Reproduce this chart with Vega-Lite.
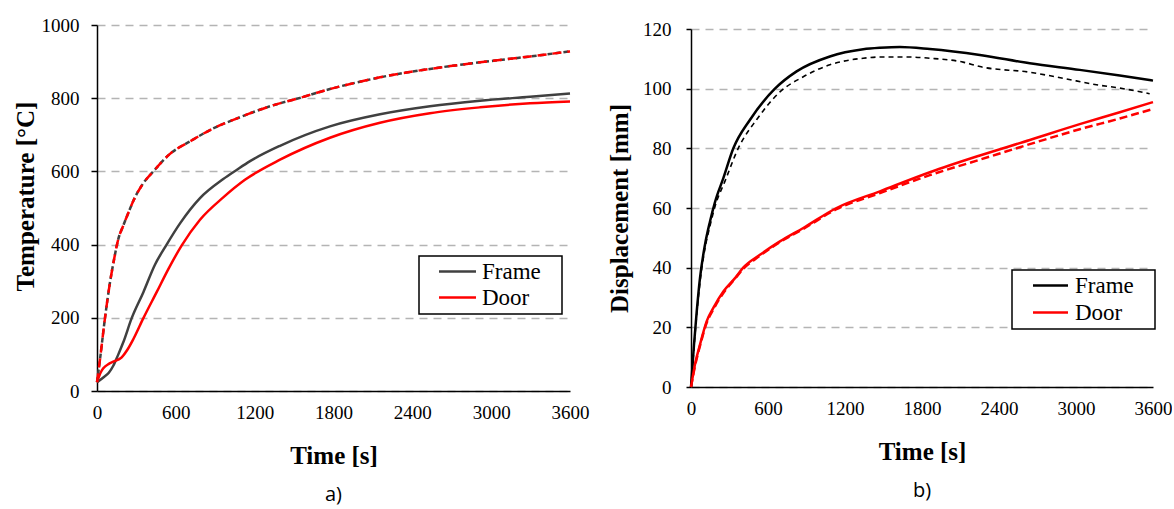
{
  "$schema": "https://vega.github.io/schema/vega-lite/v6.json",
  "background": "white",
  "padding": {"left": 13, "top": 16, "right": 0, "bottom": 4},
  "spacing": 18,
  "center": true,
  "datasets": {
    "temp": [
      {"time": 0, "value": 24, "element": "Frame", "kind": "furnace"},
      {"time": 23, "value": 87, "element": "Frame", "kind": "furnace"},
      {"time": 61, "value": 200, "element": "Frame", "kind": "furnace"},
      {"time": 99, "value": 297, "element": "Frame", "kind": "furnace"},
      {"time": 130, "value": 360, "element": "Frame", "kind": "furnace"},
      {"time": 162, "value": 415, "element": "Frame", "kind": "furnace"},
      {"time": 200, "value": 452, "element": "Frame", "kind": "furnace"},
      {"time": 240, "value": 488, "element": "Frame", "kind": "furnace"},
      {"time": 277, "value": 520, "element": "Frame", "kind": "furnace"},
      {"time": 353, "value": 568, "element": "Frame", "kind": "furnace"},
      {"time": 429, "value": 600, "element": "Frame", "kind": "furnace"},
      {"time": 556, "value": 648, "element": "Frame", "kind": "furnace"},
      {"time": 708, "value": 682, "element": "Frame", "kind": "furnace"},
      {"time": 860, "value": 713, "element": "Frame", "kind": "furnace"},
      {"time": 1088, "value": 748, "element": "Frame", "kind": "furnace"},
      {"time": 1317, "value": 778, "element": "Frame", "kind": "furnace"},
      {"time": 1545, "value": 801, "element": "Frame", "kind": "furnace"},
      {"time": 1773, "value": 825, "element": "Frame", "kind": "furnace"},
      {"time": 2000, "value": 845, "element": "Frame", "kind": "furnace"},
      {"time": 2154, "value": 857, "element": "Frame", "kind": "furnace"},
      {"time": 2534, "value": 880, "element": "Frame", "kind": "furnace"},
      {"time": 2915, "value": 898, "element": "Frame", "kind": "furnace"},
      {"time": 3296, "value": 914, "element": "Frame", "kind": "furnace"},
      {"time": 3600, "value": 928, "element": "Frame", "kind": "furnace"},
      {"time": 0, "value": 24, "element": "Door", "kind": "furnace"},
      {"time": 23, "value": 87, "element": "Door", "kind": "furnace"},
      {"time": 61, "value": 200, "element": "Door", "kind": "furnace"},
      {"time": 99, "value": 297, "element": "Door", "kind": "furnace"},
      {"time": 130, "value": 360, "element": "Door", "kind": "furnace"},
      {"time": 162, "value": 415, "element": "Door", "kind": "furnace"},
      {"time": 200, "value": 452, "element": "Door", "kind": "furnace"},
      {"time": 240, "value": 488, "element": "Door", "kind": "furnace"},
      {"time": 277, "value": 520, "element": "Door", "kind": "furnace"},
      {"time": 353, "value": 568, "element": "Door", "kind": "furnace"},
      {"time": 429, "value": 600, "element": "Door", "kind": "furnace"},
      {"time": 556, "value": 648, "element": "Door", "kind": "furnace"},
      {"time": 708, "value": 682, "element": "Door", "kind": "furnace"},
      {"time": 860, "value": 713, "element": "Door", "kind": "furnace"},
      {"time": 1088, "value": 748, "element": "Door", "kind": "furnace"},
      {"time": 1317, "value": 778, "element": "Door", "kind": "furnace"},
      {"time": 1545, "value": 801, "element": "Door", "kind": "furnace"},
      {"time": 1773, "value": 825, "element": "Door", "kind": "furnace"},
      {"time": 2000, "value": 845, "element": "Door", "kind": "furnace"},
      {"time": 2154, "value": 857, "element": "Door", "kind": "furnace"},
      {"time": 2534, "value": 880, "element": "Door", "kind": "furnace"},
      {"time": 2915, "value": 898, "element": "Door", "kind": "furnace"},
      {"time": 3296, "value": 914, "element": "Door", "kind": "furnace"},
      {"time": 3600, "value": 928, "element": "Door", "kind": "furnace"},
      {"time": 0, "value": 24, "element": "Frame", "kind": "element"},
      {"time": 48, "value": 37, "element": "Frame", "kind": "element"},
      {"time": 90, "value": 50, "element": "Frame", "kind": "element"},
      {"time": 124, "value": 69, "element": "Frame", "kind": "element"},
      {"time": 160, "value": 98, "element": "Frame", "kind": "element"},
      {"time": 200, "value": 133, "element": "Frame", "kind": "element"},
      {"time": 264, "value": 199, "element": "Frame", "kind": "element"},
      {"time": 353, "value": 270, "element": "Frame", "kind": "element"},
      {"time": 441, "value": 345, "element": "Frame", "kind": "element"},
      {"time": 530, "value": 400, "element": "Frame", "kind": "element"},
      {"time": 632, "value": 458, "element": "Frame", "kind": "element"},
      {"time": 784, "value": 527, "element": "Frame", "kind": "element"},
      {"time": 961, "value": 579, "element": "Frame", "kind": "element"},
      {"time": 1063, "value": 604, "element": "Frame", "kind": "element"},
      {"time": 1165, "value": 628, "element": "Frame", "kind": "element"},
      {"time": 1393, "value": 670, "element": "Frame", "kind": "element"},
      {"time": 1773, "value": 723, "element": "Frame", "kind": "element"},
      {"time": 2154, "value": 756, "element": "Frame", "kind": "element"},
      {"time": 2534, "value": 778, "element": "Frame", "kind": "element"},
      {"time": 2915, "value": 793, "element": "Frame", "kind": "element"},
      {"time": 3296, "value": 804, "element": "Frame", "kind": "element"},
      {"time": 3600, "value": 813, "element": "Frame", "kind": "element"},
      {"time": 0, "value": 24, "element": "Door", "kind": "element"},
      {"time": 30, "value": 52, "element": "Door", "kind": "element"},
      {"time": 48, "value": 62, "element": "Door", "kind": "element"},
      {"time": 90, "value": 74, "element": "Door", "kind": "element"},
      {"time": 124, "value": 80, "element": "Door", "kind": "element"},
      {"time": 188, "value": 92, "element": "Door", "kind": "element"},
      {"time": 230, "value": 112, "element": "Door", "kind": "element"},
      {"time": 277, "value": 142, "element": "Door", "kind": "element"},
      {"time": 353, "value": 199, "element": "Door", "kind": "element"},
      {"time": 454, "value": 270, "element": "Door", "kind": "element"},
      {"time": 543, "value": 333, "element": "Door", "kind": "element"},
      {"time": 645, "value": 398, "element": "Door", "kind": "element"},
      {"time": 784, "value": 468, "element": "Door", "kind": "element"},
      {"time": 961, "value": 529, "element": "Door", "kind": "element"},
      {"time": 1126, "value": 577, "element": "Door", "kind": "element"},
      {"time": 1393, "value": 632, "element": "Door", "kind": "element"},
      {"time": 1773, "value": 692, "element": "Door", "kind": "element"},
      {"time": 2154, "value": 733, "element": "Door", "kind": "element"},
      {"time": 2534, "value": 759, "element": "Door", "kind": "element"},
      {"time": 2915, "value": 775, "element": "Door", "kind": "element"},
      {"time": 3296, "value": 786, "element": "Door", "kind": "element"},
      {"time": 3600, "value": 791, "element": "Door", "kind": "element"}
    ],
    "disp": [
      {"time": 0, "value": 0, "element": "Frame", "kind": "measured"},
      {"time": 23, "value": 14, "element": "Frame", "kind": "measured"},
      {"time": 44, "value": 25, "element": "Frame", "kind": "measured"},
      {"time": 70, "value": 36.5, "element": "Frame", "kind": "measured"},
      {"time": 109, "value": 47.7, "element": "Frame", "kind": "measured"},
      {"time": 148, "value": 55.5, "element": "Frame", "kind": "measured"},
      {"time": 187, "value": 62, "element": "Frame", "kind": "measured"},
      {"time": 252, "value": 70, "element": "Frame", "kind": "measured"},
      {"time": 330, "value": 80, "element": "Frame", "kind": "measured"},
      {"time": 460, "value": 89.6, "element": "Frame", "kind": "measured"},
      {"time": 654, "value": 100, "element": "Frame", "kind": "measured"},
      {"time": 823, "value": 105.8, "element": "Frame", "kind": "measured"},
      {"time": 1082, "value": 110.8, "element": "Frame", "kind": "measured"},
      {"time": 1342, "value": 113.2, "element": "Frame", "kind": "measured"},
      {"time": 1472, "value": 113.7, "element": "Frame", "kind": "measured"},
      {"time": 1628, "value": 114, "element": "Frame", "kind": "measured"},
      {"time": 1861, "value": 113.3, "element": "Frame", "kind": "measured"},
      {"time": 2251, "value": 111.3, "element": "Frame", "kind": "measured"},
      {"time": 2640, "value": 108.5, "element": "Frame", "kind": "measured"},
      {"time": 3029, "value": 106.3, "element": "Frame", "kind": "measured"},
      {"time": 3341, "value": 104.4, "element": "Frame", "kind": "measured"},
      {"time": 3600, "value": 102.7, "element": "Frame", "kind": "measured"},
      {"time": 0, "value": 0, "element": "Frame", "kind": "simulated"},
      {"time": 23, "value": 13, "element": "Frame", "kind": "simulated"},
      {"time": 44, "value": 24, "element": "Frame", "kind": "simulated"},
      {"time": 70, "value": 35, "element": "Frame", "kind": "simulated"},
      {"time": 109, "value": 46.5, "element": "Frame", "kind": "simulated"},
      {"time": 148, "value": 54, "element": "Frame", "kind": "simulated"},
      {"time": 187, "value": 60.5, "element": "Frame", "kind": "simulated"},
      {"time": 265, "value": 69, "element": "Frame", "kind": "simulated"},
      {"time": 368, "value": 80, "element": "Frame", "kind": "simulated"},
      {"time": 511, "value": 89.6, "element": "Frame", "kind": "simulated"},
      {"time": 693, "value": 98.9, "element": "Frame", "kind": "simulated"},
      {"time": 875, "value": 104, "element": "Frame", "kind": "simulated"},
      {"time": 1082, "value": 108, "element": "Frame", "kind": "simulated"},
      {"time": 1342, "value": 110.2, "element": "Frame", "kind": "simulated"},
      {"time": 1472, "value": 110.6, "element": "Frame", "kind": "simulated"},
      {"time": 1700, "value": 110.6, "element": "Frame", "kind": "simulated"},
      {"time": 1861, "value": 110.2, "element": "Frame", "kind": "simulated"},
      {"time": 2120, "value": 108.9, "element": "Frame", "kind": "simulated"},
      {"time": 2251, "value": 107.4, "element": "Frame", "kind": "simulated"},
      {"time": 2640, "value": 105.5, "element": "Frame", "kind": "simulated"},
      {"time": 2899, "value": 103.5, "element": "Frame", "kind": "simulated"},
      {"time": 3159, "value": 101.3, "element": "Frame", "kind": "simulated"},
      {"time": 3341, "value": 100.2, "element": "Frame", "kind": "simulated"},
      {"time": 3574, "value": 98.3, "element": "Frame", "kind": "simulated"},
      {"time": 0, "value": 0, "element": "Door", "kind": "measured"},
      {"time": 31, "value": 7.5, "element": "Door", "kind": "measured"},
      {"time": 70, "value": 14.2, "element": "Door", "kind": "measured"},
      {"time": 122, "value": 22, "element": "Door", "kind": "measured"},
      {"time": 174, "value": 26.5, "element": "Door", "kind": "measured"},
      {"time": 252, "value": 32, "element": "Door", "kind": "measured"},
      {"time": 343, "value": 36.5, "element": "Door", "kind": "measured"},
      {"time": 407, "value": 40, "element": "Door", "kind": "measured"},
      {"time": 537, "value": 44.3, "element": "Door", "kind": "measured"},
      {"time": 693, "value": 48.8, "element": "Door", "kind": "measured"},
      {"time": 875, "value": 53.3, "element": "Door", "kind": "measured"},
      {"time": 1134, "value": 60, "element": "Door", "kind": "measured"},
      {"time": 1472, "value": 65.6, "element": "Door", "kind": "measured"},
      {"time": 1861, "value": 72, "element": "Door", "kind": "measured"},
      {"time": 2251, "value": 77.6, "element": "Door", "kind": "measured"},
      {"time": 2640, "value": 82.8, "element": "Door", "kind": "measured"},
      {"time": 3029, "value": 88.1, "element": "Door", "kind": "measured"},
      {"time": 3341, "value": 92.1, "element": "Door", "kind": "measured"},
      {"time": 3600, "value": 95.5, "element": "Door", "kind": "measured"},
      {"time": 0, "value": 0, "element": "Door", "kind": "simulated"},
      {"time": 31, "value": 7, "element": "Door", "kind": "simulated"},
      {"time": 70, "value": 13.8, "element": "Door", "kind": "simulated"},
      {"time": 122, "value": 21.5, "element": "Door", "kind": "simulated"},
      {"time": 174, "value": 26, "element": "Door", "kind": "simulated"},
      {"time": 252, "value": 31.5, "element": "Door", "kind": "simulated"},
      {"time": 343, "value": 36.3, "element": "Door", "kind": "simulated"},
      {"time": 407, "value": 39.6, "element": "Door", "kind": "simulated"},
      {"time": 537, "value": 44, "element": "Door", "kind": "simulated"},
      {"time": 693, "value": 48.6, "element": "Door", "kind": "simulated"},
      {"time": 875, "value": 53, "element": "Door", "kind": "simulated"},
      {"time": 1134, "value": 59.6, "element": "Door", "kind": "simulated"},
      {"time": 1472, "value": 65, "element": "Door", "kind": "simulated"},
      {"time": 1861, "value": 71, "element": "Door", "kind": "simulated"},
      {"time": 2251, "value": 76.2, "element": "Door", "kind": "simulated"},
      {"time": 2640, "value": 81.4, "element": "Door", "kind": "simulated"},
      {"time": 3029, "value": 86.4, "element": "Door", "kind": "simulated"},
      {"time": 3341, "value": 90, "element": "Door", "kind": "simulated"},
      {"time": 3600, "value": 93.2, "element": "Door", "kind": "simulated"}
    ]
  },
  "resolve": {"scale": {"color": "independent"}},
  "config": {
    "font": "Liberation Serif",
    "view": {"stroke": null},
    "axis": {
      "labelFont": "Liberation Serif",
      "labelFontSize": 19,
      "labelColor": "black",
      "titleFont": "Liberation Serif",
      "titleFontSize": 25,
      "titleFontWeight": "bold",
      "titleColor": "black",
      "domainColor": "black",
      "domainWidth": 1.5,
      "tickColor": "black",
      "tickWidth": 1.5,
      "gridColor": "#b4b4b4",
      "gridDash": [8, 6],
      "gridWidth": 1.5,
      "labelFlush": false,
      "format": "d"
    },
    "legend": {
      "orient": "none",
      "strokeColor": "black",
      "strokeWidth": 1.5,
      "fillColor": "white",
      "padding": 4,
      "symbolType": "M-2,0H2",
      "symbolStrokeWidth": 2.5,
      "symbolFillColor": "transparent",
      "labelFont": "Liberation Serif",
      "labelFontSize": 23,
      "labelColor": "black"
    },
    "title": {
      "font": "Open Sans",
      "fontSize": 20,
      "fontWeight": "normal",
      "color": "black",
      "orient": "bottom",
      "anchor": "middle",
      "offset": 17
    }
  },
  "hconcat": [
    {
      "width": 473,
      "height": 366,
      "data": {"name": "temp"},
      "title": {"text": "a)"},
      "encoding": {
        "x": {"field": "time", "type": "quantitative", "scale": {"domain": [0, 3600], "nice": false}, "axis": {"values": [0, 600, 1200, 1800, 2400, 3000, 3600], "format": "d", "labelFont": "Liberation Serif", "title": "Time [s]", "grid": false, "ticks": false, "labelPadding": 12, "titlePadding": 21}},
        "y": {"field": "value", "type": "quantitative", "scale": {"domain": [0, 1000], "nice": false}, "axis": {"values": [0, 200, 400, 600, 800, 1000], "format": "d", "labelFont": "Liberation Serif", "title": "Temperature [°C]", "titleY": 171, "grid": true, "tickSize": 6, "labelPadding": 12, "titlePadding": 3}}
      },
      "layer": [
        {
          "transform": [{"filter": "datum.kind === 'element'"}],
          "mark": {"type": "line", "strokeWidth": 2.5, "interpolate": "monotone"},
          "encoding": {
            "color": {"field": "element", "type": "nominal", "scale": {"domain": ["Frame", "Door"], "range": ["#404040", "#ff0000"]},
              "legend": {"title": null, "legendX": 322, "legendY": 231, "symbolSize": 342, "symbolOffset": 23, "labelOffset": 13, "rowPadding": 2, "labelExpr": "datum.label + '\u2800'"}}
          }
        },
        {
          "transform": [{"filter": "datum.kind === 'furnace' && datum.element === 'Frame'"}],
          "mark": {"type": "line", "strokeWidth": 2.5, "color": "#404040", "strokeDash": [5, 3], "interpolate": "monotone"}
        },
        {
          "transform": [{"filter": "datum.kind === 'furnace' && datum.element === 'Door'"}],
          "mark": {"type": "line", "strokeWidth": 2.5, "color": "#ff0000", "strokeDash": [9, 6], "interpolate": "monotone"}
        }
      ]
    },
    {
      "width": 462,
      "height": 358,
      "data": {"name": "disp"},
      "title": {"text": "b)"},
      "encoding": {
        "x": {"field": "time", "type": "quantitative", "scale": {"domain": [0, 3600], "nice": false}, "axis": {"values": [0, 600, 1200, 1800, 2400, 3000, 3600], "format": "d", "labelFont": "Liberation Serif", "title": "Time [s]", "grid": false, "ticks": false, "labelPadding": 12, "titlePadding": 21}},
        "y": {"field": "value", "type": "quantitative", "scale": {"domain": [0, 120], "nice": false}, "axis": {"values": [0, 20, 40, 60, 80, 100, 120], "format": "d", "labelFont": "Liberation Serif", "title": "Displacement [mm]", "grid": true, "tickSize": 5, "labelPadding": 15, "titlePadding": 10}}
      },
      "layer": [
        {
          "transform": [{"filter": "datum.kind === 'simulated' && datum.element === 'Frame'"}],
          "mark": {"type": "line", "strokeWidth": 1.6, "color": "#000000", "strokeDash": [5, 4], "interpolate": "monotone"}
        },
        {
          "transform": [{"filter": "datum.kind === 'simulated' && datum.element === 'Door'"}],
          "mark": {"type": "line", "strokeWidth": 2.5, "color": "#ff0000", "strokeDash": [8, 4], "interpolate": "monotone"}
        },
        {
          "transform": [{"filter": "datum.kind === 'measured'"}],
          "mark": {"type": "line", "strokeWidth": 2.5, "interpolate": "monotone"},
          "encoding": {
            "color": {"field": "element", "type": "nominal", "scale": {"domain": ["Frame", "Door"], "range": ["#000000", "#ff0000"]},
              "legend": {"title": null, "legendX": 321, "legendY": 241, "symbolSize": 306, "symbolOffset": 23, "labelOffset": 13, "rowPadding": 3, "labelExpr": "datum.label + '\u2800'"}}
          }
        }
      ]
    }
  ]
}
